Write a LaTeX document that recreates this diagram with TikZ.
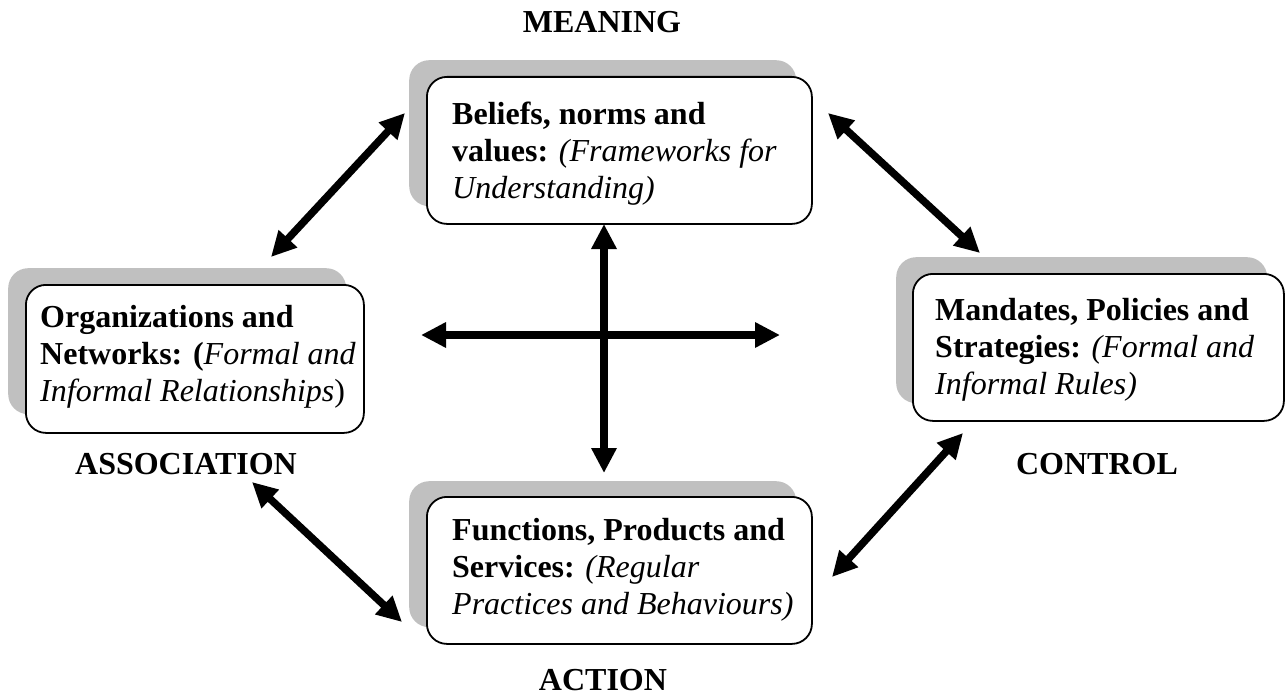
\documentclass[tikz,border=0pt]{standalone}
\usepackage{fontspec}
\setmainfont{Liberation Serif}
\usetikzlibrary{arrows.meta}
\definecolor{shadowgray}{RGB}{192,192,192}
\begin{document}
\begin{tikzpicture}[x=1pt,y=-1pt,
  shadowbox/.style={fill=shadowgray, rounded corners=20pt, inner sep=0pt, anchor=north west},
  mainbox/.style={draw, line width=1.8pt, fill=white, rounded corners=20pt, inner sep=0pt, anchor=north west},
  boxtext/.style={anchor=north west, inner sep=0pt, align=left, font=\fontsize{32}{37}\selectfont},
  lbl/.style={anchor=base, inner sep=0pt, font=\fontsize{32}{37}\selectfont\bfseries},
  biarrow/.style={line width=7.5pt, {Triangle[length=25pt,width=24pt]}-{Triangle[length=25pt,width=24pt]}}
]
\useasboundingbox (0,0) rectangle (1286,698);

% shadows
\node[shadowbox, minimum width=387pt, minimum height=146pt] (Ts) at (409,60) {};
\node[shadowbox, minimum width=338pt, minimum height=146pt] (Ls) at (8,268) {};
\node[shadowbox, minimum width=371pt, minimum height=146pt] (Rs) at (896,257) {};
\node[shadowbox, minimum width=387pt, minimum height=146pt] (Bs) at (409,481) {};

% boxes
\node[mainbox, minimum width=385pt, minimum height=147pt] (T) at (426,76) {};
\node[mainbox, minimum width=338pt, minimum height=148pt] (L) at (25,284) {};
\node[mainbox, minimum width=371pt, minimum height=147pt] (R) at (912,273) {};
\node[mainbox, minimum width=385pt, minimum height=147pt] (B) at (426,496) {};

% box texts
\node[boxtext] (Tt) at (452,102) {\textbf{Beliefs, norms and}\\\textbf{values:} \textit{(Frameworks for}\\\textit{Understanding)}};
\node[boxtext] (Lt) at (40,305) {\textbf{Organizations and}\\\textbf{Networks: (}\textit{Formal and}\\\textit{Informal Relationships})};
\node[boxtext] (Rt) at (935,298) {\textbf{Mandates, Policies and}\\\textbf{Strategies:} \textit{(Formal and}\\\textit{Informal Rules)}};
\node[boxtext] (Bt) at (452,518) {\textbf{Functions, Products and}\\\textbf{Services:} \textit{(Regular}\\\textit{Practices and Behaviours)}};

% labels
\node[lbl] (meaning) at (602,33) {MEANING};
\node[lbl] (association) at (186,474) {ASSOCIATION};
\node[lbl] (control) at (1097,474) {CONTROL};
\node[lbl] (action) at (603,690) {ACTION};

% arrow end points
\coordinate (a1s) at (271,257); \coordinate (a1e) at (405,113);
\coordinate (a2s) at (828,113); \coordinate (a2e) at (980,253);
\coordinate (a3s) at (963,433); \coordinate (a3e) at (832,577);
\coordinate (a4s) at (252,482); \coordinate (a4e) at (402,622);
\coordinate (v1) at (604,224); \coordinate (v2) at (604,473);
\coordinate (h1) at (421,335); \coordinate (h2) at (780,335);

\draw[biarrow] (a1s) -- (a1e);
\draw[biarrow] (a2s) -- (a2e);
\draw[biarrow] (a3s) -- (a3e);
\draw[biarrow] (a4s) -- (a4e);
\draw[biarrow] (v1) -- (v2);
\draw[biarrow] (h1) -- (h2);
\end{tikzpicture}
\end{document}
